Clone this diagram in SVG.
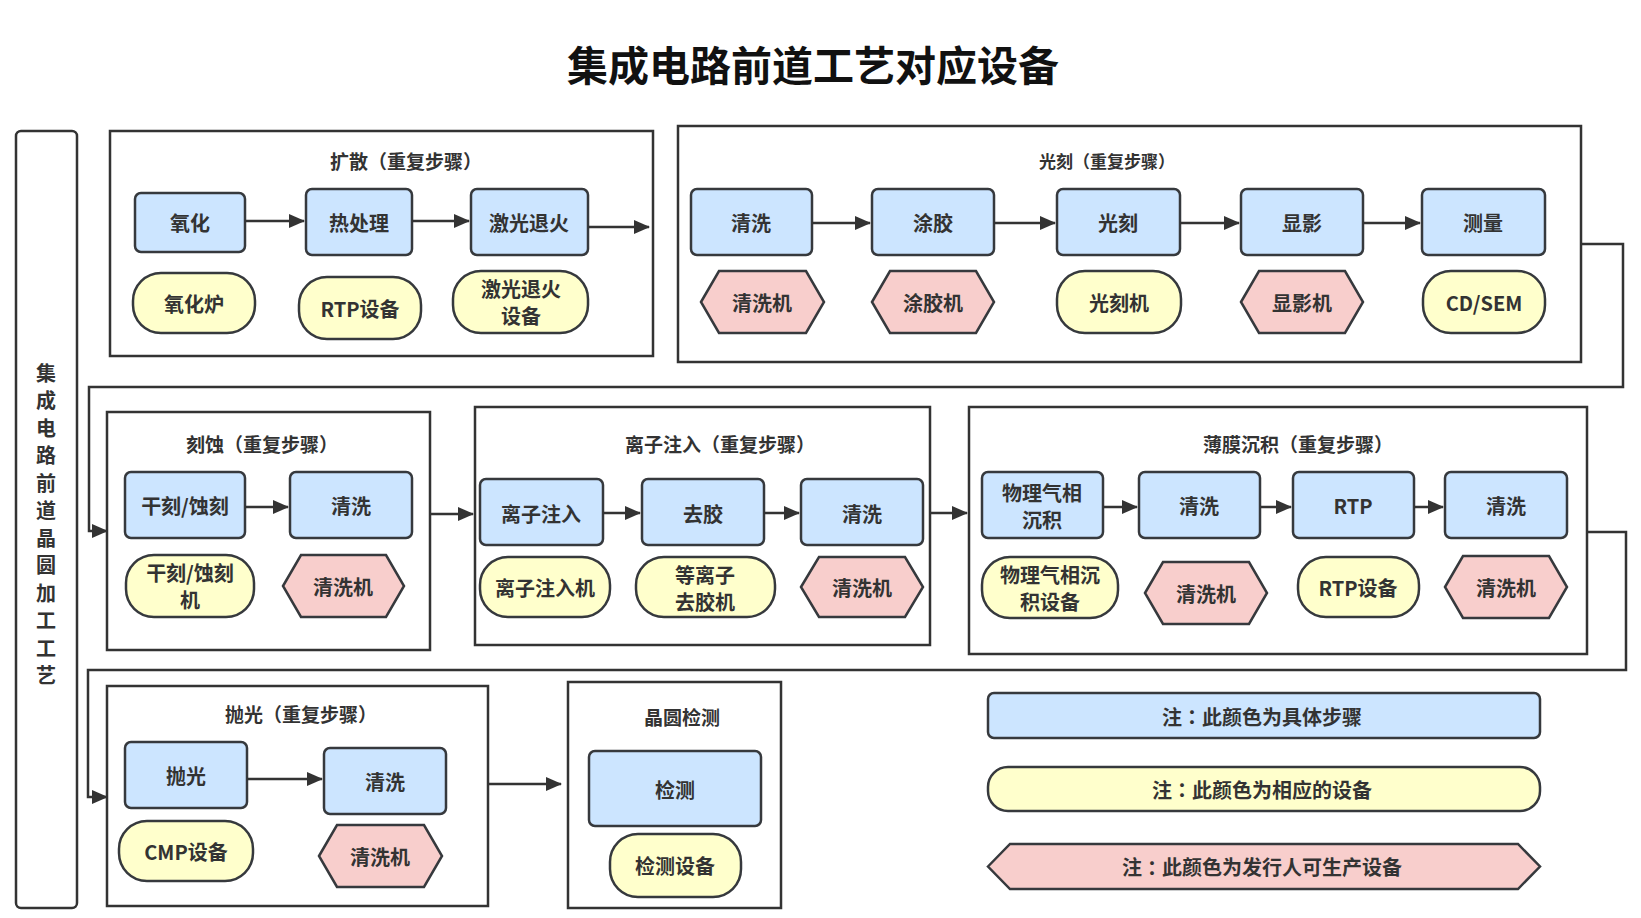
<svg xmlns="http://www.w3.org/2000/svg" width="1641" height="918" viewBox="0 0 1641 918">
<defs>
<marker id="arr" markerUnits="userSpaceOnUse" markerWidth="16" markerHeight="14" refX="15" refY="7" orient="auto">
<path d="M0,0 L16,7 L0,14 Z" fill="#333"/>
</marker>
<style>
text{font-family:"Noto Sans CJK SC","Noto Sans",sans-serif;font-weight:bold;fill:#333;text-anchor:middle;dominant-baseline:central}
.tc{font-family:"Noto Sans CJK TC",sans-serif}
.t{font-size:20px}
.h{font-size:19px}
.h2{font-size:17px}
.title{font-size:41px;fill:#111}
.cont{fill:#fff;stroke:#333;stroke-width:2.5}
.step{fill:#cce5ff;stroke:#36393d;stroke-width:2.5}
.eq{fill:#ffffcc;stroke:#36393d;stroke-width:2.5}
.cn{fill:#f8cecc;stroke:#36393d;stroke-width:2.5}
.a{fill:none;stroke:#333;stroke-width:2.5;marker-end:url(#arr)}
</style>
</defs>
<rect width="1641" height="918" fill="#fff"/>
<text class="title" x="813" y="63">集成电路前道工艺对应设备</text>

<g id="side">
<rect x="16" y="131" width="61" height="777" rx="5" class="cont"/>
<text class="t" x="46" y="372">集</text><text class="t" x="46" y="399.5">成</text><text class="t" x="46" y="427">电</text><text class="t" x="46" y="454.5">路</text><text class="t" x="46" y="482">前</text><text class="t" x="46" y="509.5">道</text><text class="t" x="46" y="537">晶</text><text class="t" x="46" y="564.5">圆</text><text class="t" x="46" y="592">加</text><text class="t" x="46" y="619.5">工</text><text class="t" x="46" y="647">工</text><text class="t" x="46" y="674.5">艺</text>
</g>

<g id="diffusion">
<rect x="110" y="131" width="543" height="225" class="cont"/>
<text class="h" x="406" y="160">扩散（重复步骤）</text>
</g>
<g id="d1"><rect x="135" y="193" width="110" height="59" rx="6" class="step"/><text class="t" x="190" y="222">氧化</text></g>
<g id="d2"><rect x="306" y="189" width="106" height="66" rx="6" class="step"/><text class="t" x="359" y="222">热处理</text></g>
<g id="d3"><rect x="471" y="189" width="117" height="66" rx="6" class="step"/><text class="t" x="529" y="222">激光退火</text></g>
<g id="d1e"><rect x="133" y="273" width="122" height="60" rx="28" class="eq"/><text class="t" x="194" y="303">氧化炉</text></g>
<g id="d2e"><rect x="299" y="277" width="122" height="62" rx="28" class="eq"/><text class="t" x="360" y="308">RTP设备</text></g>
<g id="d3e"><rect x="453" y="271" width="135" height="62" rx="28" class="eq"/><text class="t" x="521" y="288">激光退火</text><text class="t" x="521" y="315">设备</text></g>

<g id="litho">
<rect x="678" y="126" width="903" height="236" class="cont"/>
<text class="h2" x="1107" y="160">光刻（重复步骤）</text>
</g>
<g id="l1"><rect x="691" y="189" width="121" height="66" rx="6" class="step"/><text class="t" x="751" y="222">清洗</text></g>
<g id="l2"><rect x="872" y="189" width="122" height="66" rx="6" class="step"/><text class="t" x="933" y="222">涂胶</text></g>
<g id="l3"><rect x="1057" y="189" width="123" height="66" rx="6" class="step"/><text class="t" x="1118" y="222">光刻</text></g>
<g id="l4"><rect x="1241" y="189" width="122" height="66" rx="6" class="step"/><text class="t" x="1302" y="222">显影</text></g>
<g id="l5"><rect x="1422" y="189" width="123" height="66" rx="6" class="step"/><text class="t" x="1483" y="222">测量</text></g>
<g id="l1e"><path d="M701,302 L719,271 L806,271 L824,302 L806,333 L719,333 Z" class="cn"/><text class="t" x="762" y="302">清洗机</text></g>
<g id="l2e"><path d="M872,302 L890,271 L976,271 L994,302 L976,333 L890,333 Z" class="cn"/><text class="t" x="933" y="302">涂胶机</text></g>
<g id="l3e"><rect x="1057" y="271" width="124" height="62" rx="28" class="eq"/><text class="t" x="1119" y="302">光刻机</text></g>
<g id="l4e"><path d="M1241,302 L1259,271 L1345,271 L1363,302 L1345,333 L1259,333 Z" class="cn"/><text class="t" x="1302" y="302">显影机</text></g>
<g id="l5e"><rect x="1423" y="271" width="122" height="62" rx="28" class="eq"/><text class="t" x="1484" y="302">CD/SEM</text></g>

<g id="etch">
<rect x="107" y="412" width="323" height="238" class="cont"/>
<text class="h" x="262" y="443">刻蚀（重复步骤）</text>
</g>
<g id="e1"><rect x="125" y="472" width="120" height="66" rx="6" class="step"/><text class="t" x="185" y="505">干刻/蚀刻</text></g>
<g id="e2"><rect x="290" y="472" width="122" height="66" rx="6" class="step"/><text class="t" x="351" y="505">清洗</text></g>
<g id="e1e"><rect x="126" y="555" width="128" height="62" rx="28" class="eq"/><text class="t" x="190" y="572">干刻/蚀刻</text><text class="t" x="190" y="599">机</text></g>
<g id="e2e"><path d="M283,586 L301,555 L386,555 L404,586 L386,617 L301,617 Z" class="cn"/><text class="t" x="343" y="586">清洗机</text></g>

<g id="ion">
<rect x="475" y="407" width="455" height="238" class="cont"/>
<text class="h" x="720" y="443">离子注入（重复步骤）</text>
</g>
<g id="i1"><rect x="480" y="479" width="123" height="66" rx="6" class="step"/><text class="t" x="541" y="513">离子注入</text></g>
<g id="i2"><rect x="642" y="479" width="122" height="66" rx="6" class="step"/><text class="t" x="703" y="513">去胶</text></g>
<g id="i3"><rect x="801" y="479" width="122" height="66" rx="6" class="step"/><text class="t" x="862" y="513">清洗</text></g>
<g id="i1e"><rect x="480" y="557" width="130" height="60" rx="28" class="eq"/><text class="t" x="545" y="587">离子注入机</text></g>
<g id="i2e"><rect x="636" y="557" width="139" height="60" rx="28" class="eq"/><text class="t" x="705" y="574">等离子</text><text class="t" x="705" y="601">去胶机</text></g>
<g id="i3e"><path d="M801,587 L819,557 L905,557 L923,587 L905,617 L819,617 Z" class="cn"/><text class="t" x="862" y="587">清洗机</text></g>

<g id="film">
<rect x="969" y="407" width="618" height="247" class="cont"/>
<text class="h" x="1298" y="443">薄膜沉积（重复步骤）</text>
</g>
<g id="f1"><rect x="982" y="472" width="121" height="66" rx="6" class="step"/><text class="t" x="1042" y="492">物理气相</text><text class="t" x="1042" y="519">沉积</text></g>
<g id="f2"><rect x="1139" y="472" width="121" height="66" rx="6" class="step"/><text class="t" x="1199" y="505">清洗</text></g>
<g id="f3"><rect x="1293" y="472" width="121" height="66" rx="6" class="step"/><text class="t" x="1353" y="505">RTP</text></g>
<g id="f4"><rect x="1445" y="472" width="122" height="66" rx="6" class="step"/><text class="t" x="1506" y="505">清洗</text></g>
<g id="f1e"><rect x="982" y="557" width="136" height="61" rx="28" class="eq"/><text class="t" x="1050" y="574">物理气相沉</text><text class="t" x="1050" y="601">积设备</text></g>
<g id="f2e"><path d="M1145,593 L1163,562 L1249,562 L1267,593 L1249,624 L1163,624 Z" class="cn"/><text class="t" x="1206" y="593">清洗机</text></g>
<g id="f3e"><rect x="1298" y="557" width="121" height="60" rx="28" class="eq"/><text class="t" x="1358" y="587">RTP设备</text></g>
<g id="f4e"><path d="M1445,587 L1463,556 L1549,556 L1567,587 L1549,618 L1463,618 Z" class="cn"/><text class="t" x="1506" y="587">清洗机</text></g>

<g id="polish">
<rect x="107" y="686" width="381" height="220" class="cont"/>
<text class="h" x="301" y="713">抛光（重复步骤）</text>
</g>
<g id="p1"><rect x="125" y="742" width="122" height="66" rx="6" class="step"/><text class="t" x="186" y="775">抛光</text></g>
<g id="p2"><rect x="324" y="748" width="122" height="66" rx="6" class="step"/><text class="t" x="385" y="781">清洗</text></g>
<g id="p1e"><rect x="119" y="821" width="134" height="60" rx="28" class="eq"/><text class="t" x="186" y="851">CMP设备</text></g>
<g id="p2e"><path d="M319,856 L337,825 L424,825 L442,856 L424,887 L337,887 Z" class="cn"/><text class="t" x="380" y="856">清洗机</text></g>

<g id="inspect">
<rect x="568" y="682" width="213" height="226" class="cont"/>
<text class="h" x="682" y="716">晶圆检测</text>
</g>
<g id="n1"><rect x="589" y="751" width="172" height="75" rx="6" class="step"/><text class="t" x="675" y="789">检测</text></g>
<g id="n1e"><rect x="610" y="834" width="131" height="63" rx="28" class="eq"/><text class="t" x="675" y="865">检测设备</text></g>

<g id="legend-step"><rect x="988" y="693" width="552" height="45" rx="6" class="step"/><text class="t" x="1262" y="716">注<tspan class="tc">：</tspan>此颜色为具体步骤</text></g>
<g id="legend-eq"><rect x="988" y="767" width="552" height="44" rx="20" class="eq"/><text class="t" x="1262" y="789">注<tspan class="tc">：</tspan>此颜色为相应的设备</text></g>
<g id="legend-cn"><path d="M988,866.5 L1010,844 L1518,844 L1540,866.5 L1518,889 L1010,889 Z" class="cn"/><text class="t" x="1262" y="866.5">注<tspan class="tc">：</tspan>此颜色为发行人可生产设备</text></g>

<g id="connectors">
<line x1="245" y1="221" x2="304" y2="221" class="a"/>
<line x1="412" y1="221" x2="469" y2="221" class="a"/>
<line x1="588" y1="227" x2="649" y2="227" class="a"/>
<line x1="812" y1="223" x2="870" y2="223" class="a"/>
<line x1="994" y1="223" x2="1055" y2="223" class="a"/>
<line x1="1180" y1="223" x2="1239" y2="223" class="a"/>
<line x1="1363" y1="223" x2="1420" y2="223" class="a"/>
<polyline points="1581,244 1623,244 1623,387 89,387 89,531 107,531" class="a"/>
<line x1="245" y1="507" x2="288" y2="507" class="a"/>
<line x1="430" y1="514" x2="473" y2="514" class="a"/>
<line x1="603" y1="513" x2="640" y2="513" class="a"/>
<line x1="764" y1="513" x2="799" y2="513" class="a"/>
<line x1="930" y1="513" x2="967" y2="513" class="a"/>
<line x1="1103" y1="507" x2="1137" y2="507" class="a"/>
<line x1="1260" y1="507" x2="1291" y2="507" class="a"/>
<line x1="1414" y1="507" x2="1443" y2="507" class="a"/>
<polyline points="1587,532 1626,532 1626,670 88,670 88,797 107,797" class="a"/>
<line x1="247" y1="779" x2="322" y2="779" class="a"/>
<line x1="488" y1="784" x2="561" y2="784" class="a"/>
</g>
</svg>
